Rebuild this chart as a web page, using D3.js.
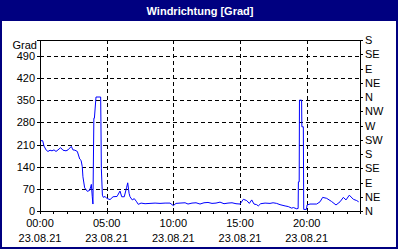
<!DOCTYPE html>
<html>
<head>
<meta charset="utf-8">
<script src="https://cdn.jsdelivr.net/npm/d3@7"></script>
<style>
  body { margin: 0; background: #fff; }
  svg text { font-family: "Liberation Sans", Arial, sans-serif; }
</style>
</head>
<body>
<div id="chart"></div>
<script>
// time in hours since 00:00 (23.08.21) and wind direction in degrees
const hours = [
  0, 0.2, 0.3, 0.47, 0.6, 0.75, 0.9, 1.05, 1.2, 1.35, 1.55, 1.72, 1.95, 2.1, 2.35, 2.47, 2.62, 2.8,
  2.98, 3.08, 3.17, 3.22, 3.35, 3.45, 3.55, 3.72, 3.8, 3.85, 3.92, 3.97, 4.04, 4.08, 4.2, 4.55,
  4.57, 4.6, 4.68, 4.75, 4.88, 5.0, 5.25, 5.48, 5.78, 5.83, 6.0, 6.13, 6.32, 6.5, 6.58, 6.68, 6.75,
  6.92, 7.07, 7.25, 7.37, 7.58, 7.88, 8.25, 8.63, 9.0, 9.38, 9.75, 10.0, 10.2, 10.5, 10.88, 11.1,
  11.4, 11.7, 12.0, 12.3, 12.6, 12.9, 13.2, 13.5, 13.8, 14.1, 14.4, 14.7, 15.0, 15.25, 15.5, 15.7,
  15.88, 16.05, 16.25, 16.37, 16.55, 16.88, 17.25, 17.48, 17.75, 18.0, 18.38, 18.62, 18.88, 19.0,
  19.25, 19.36, 19.38, 19.44, 19.46, 19.62, 19.64, 19.75, 19.78, 19.98, 20.03, 20.25, 20.75, 21.0,
  21.2, 21.5, 21.87, 22.2, 22.5, 22.75, 22.95, 23.2, 23.5, 23.75, 23.9
];
const values = [
  222, 222, 205, 192, 188, 192, 190, 193, 188, 193, 200, 192, 190, 193, 204, 193, 192, 188,
  164, 160, 140, 108, 73, 68, 62, 65, 76, 84, 45, 22, 293, 293, 360, 360,
  282, 135, 50, 43, 46, 40, 36, 45, 46, 50, 63, 45, 45, 75, 89, 56, 45,
  35, 39, 29, 21, 25, 23, 24, 25, 24, 25, 25, 17, 24, 25, 26, 22,
  25, 26, 22, 26, 27, 24, 25, 28, 23, 25, 26, 23, 22, 37, 33, 24,
  35, 22, 20, 16, 23, 25, 24, 26, 24, 20, 16, 14, 9, 11,
  7, 8, 92, 92, 350, 350, 266, 266, 5, 5, 19, 22, 22, 29,
  43, 40, 30, 19, 29, 43, 35, 50, 37, 33, 29
];
const leftTicks = [0, 70, 140, 210, 280, 350, 420, 490];
const dirTicks = [0, 45, 90, 135, 180, 225, 270, 315, 360, 405, 450, 495, 540];
const dirLabels = ["N", "NE", "E", "SE", "S", "SW", "W", "NW", "N", "NE", "E", "SE", "S"];
const timeTicks = [0, 5, 10, 15, 20];
const timeLabels = ["00:00", "05:00", "10:00", "15:00", "20:00"];
const dateLabel = "23.08.21";

const width = 400, height = 250;
const plot = { left: 40, right: 360, top: 40, bottom: 211 };

const svg = d3.select("#chart").append("svg")
  .attr("width", width)
  .attr("height", height);

// window frame + title bar
svg.append("rect")
  .attr("x", 1).attr("y", 1)
  .attr("width", 396).attr("height", 247)
  .attr("fill", "#fff")
  .attr("stroke", "#000080")
  .attr("stroke-width", 2);
svg.append("rect")
  .attr("x", 0).attr("y", 0)
  .attr("width", 398).attr("height", 21)
  .attr("fill", "#000080");
svg.append("text")
  .attr("x", 200).attr("y", 15)
  .attr("text-anchor", "middle")
  .attr("font-size", "11px")
  .attr("font-weight", "bold")
  .attr("fill", "#fff")
  .text("Windrichtung [Grad]");

const x = d3.scaleLinear().domain([0, 24]).range([plot.left, plot.right]);
const y = d3.scaleLinear().domain([0, 540]).range([plot.bottom, plot.top]);

// grid
const grid = svg.append("g")
  .attr("stroke", "#000")
  .attr("stroke-dasharray", "4,3")
  .attr("shape-rendering", "crispEdges");
grid.selectAll(".hg").data(leftTicks.filter(d => d > 0))
  .enter().append("line")
  .attr("x1", plot.left).attr("x2", plot.right)
  .attr("y1", d => Math.round(y(d)) + 0.5).attr("y2", d => Math.round(y(d)) + 0.5);
grid.selectAll(".vg").data(timeTicks.filter(d => d > 0))
  .enter().append("line")
  .attr("x1", d => Math.round(x(d)) + 0.5).attr("x2", d => Math.round(x(d)) + 0.5)
  .attr("y1", plot.top).attr("y2", plot.bottom);

// data line
const line = d3.line()
  .x((d, i) => x(hours[i]))
  .y(d => y(d));
svg.append("path")
  .datum(values)
  .attr("fill", "none")
  .attr("stroke", "#0000ff")
  .attr("stroke-width", 1)
  .attr("d", line);

// top border
svg.append("line")
  .attr("x1", plot.left).attr("x2", plot.right)
  .attr("y1", plot.top + 0.5).attr("y2", plot.top + 0.5)
  .attr("stroke", "#000")
  .attr("shape-rendering", "crispEdges");

// axes
const leftAxis = svg.append("g")
  .attr("transform", `translate(${plot.left},0)`)
  .call(d3.axisLeft(y).tickValues(leftTicks).tickSize(3).tickPadding(2));
const rightAxis = svg.append("g")
  .attr("transform", `translate(${plot.right},0)`)
  .call(d3.axisRight(y).tickValues(dirTicks).tickSize(3).tickPadding(2)
    .tickFormat((d, i) => dirLabels[i]));
const bottomAxis = svg.append("g")
  .attr("transform", `translate(0,${plot.bottom})`)
  .call(d3.axisBottom(x).tickValues(d3.range(0, 25, 1)).tickSize(3).tickFormat(""));

[leftAxis, rightAxis, bottomAxis].forEach(g => {
  g.attr("shape-rendering", "crispEdges");
  g.select(".domain").attr("stroke", "#000");
  g.selectAll("text").attr("font-size", "11px").attr("fill", "#000")
    .attr("font-family", "'Liberation Sans', Arial, sans-serif");
});

// "Grad" unit label
svg.append("text")
  .attr("x", plot.left - 3).attr("y", 49)
  .attr("text-anchor", "end")
  .attr("font-size", "11px")
  .text("Grad");

// time labels (two rows)
const tl = svg.append("g").attr("font-size", "11px").attr("text-anchor", "middle");
tl.selectAll(".t").data(timeTicks)
  .enter().append("text")
  .attr("x", d => x(d))
  .attr("y", 227)
  .text((d, i) => timeLabels[i]);
tl.selectAll(".dt").data(timeTicks)
  .enter().append("text")
  .attr("x", d => x(d))
  .attr("y", 242)
  .text(dateLabel);
</script>
</body>
</html>
